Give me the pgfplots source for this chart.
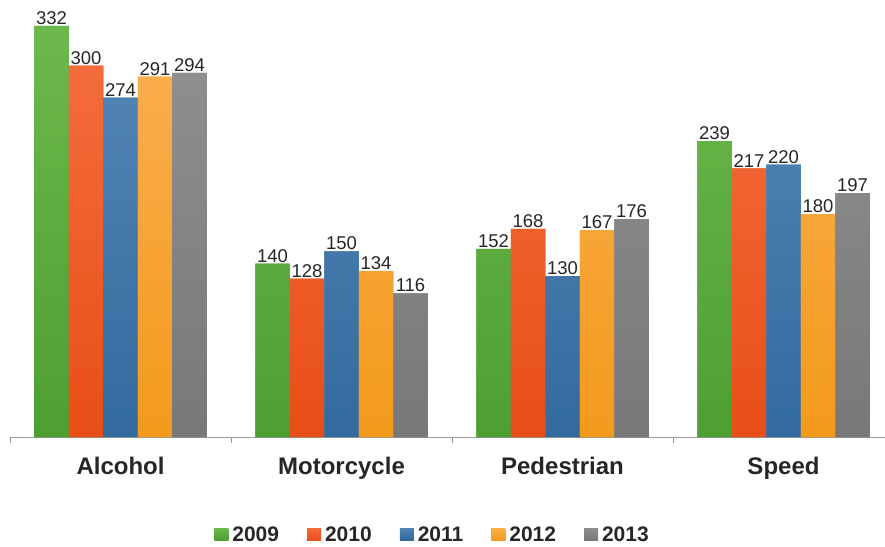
\documentclass[border=0pt]{standalone}
\usepackage{fontspec}
\setmainfont{Liberation Sans}
\usepackage{pgfplots}
\pgfplotsset{compat=1.18}
\definecolor{txt}{HTML}{262626}
\definecolor{gT}{HTML}{6DB84C}\definecolor{gB}{HTML}{4E9F32}
\definecolor{rT}{HTML}{F46C3C}\definecolor{rB}{HTML}{E84E17}
\definecolor{bT}{HTML}{5082B4}\definecolor{bB}{HTML}{336A9E}
\definecolor{oT}{HTML}{FBAD4C}\definecolor{oB}{HTML}{F39A1C}
\definecolor{kT}{HTML}{8E8E8E}\definecolor{kB}{HTML}{787878}
\begin{document}
\begin{tikzpicture}
\useasboundingbox (0,0) rectangle (885pt,546pt);
\begin{axis}[
  at={(10pt,109pt)}, anchor=south west,
  scale only axis, width=884pt, height=421pt,
  xmin=-0.5, xmax=3.5, ymin=0, ymax=340,
  clip=false,
  ybar=0pt, bar width=34.5pt,
  hide y axis,
  axis x line*=bottom,
  x axis line style={draw=gray!80, line width=0.9pt},
  xtick={0,1,2,3},
  xticklabels={Alcohol,Motorcycle,Pedestrian,Speed},
  major x tick style={draw=none},
  extra x ticks={-0.5,0.5,1.5,2.5},
  extra x tick labels={},
  extra x tick style={tick align=outside, major tick length=6pt, major x tick style={draw=gray!80, line width=0.9pt}},
  xticklabel style={font=\fontsize{24}{28}\selectfont\bfseries, text=txt, inner sep=0pt, yshift=-16pt},
  /pgf/number format/assume math mode=true,
  nodes near coords,
  nodes near coords style={font=\fontsize{18.5}{20}\selectfont, text=txt, inner sep=1pt, anchor=south},
  legend style={at={(0.478,-0.233)}, anchor=center, draw=none, fill=none,
    legend columns=-1, font=\fontsize{21}{25}\selectfont\bfseries, text=txt,
    /tikz/every even column/.append style={column sep=26pt}},
  legend image code/.code={\fill[#1, draw=none] (0pt,-5pt) rectangle (14pt,7pt); \path (16pt,0pt);},
]
\addplot[draw=none, top color=gT, bottom color=gB, fill=gB] coordinates {(0,332) (1,140) (2,152) (3,239)};
\addplot[draw=none, top color=rT, bottom color=rB, fill=rB] coordinates {(0,300) (1,128) (2,168) (3,217)};
\addplot[draw=none, top color=bT, bottom color=bB, fill=bB] coordinates {(0,274) (1,150) (2,130) (3,220)};
\addplot[draw=none, top color=oT, bottom color=oB, fill=oB] coordinates {(0,291) (1,134) (2,167) (3,180)};
\addplot[draw=none, top color=kT, bottom color=kB, fill=kB] coordinates {(0,294) (1,116) (2,176) (3,197)};
\legend{2009,2010,2011,2012,2013}
\end{axis}
\end{tikzpicture}
\end{document}
